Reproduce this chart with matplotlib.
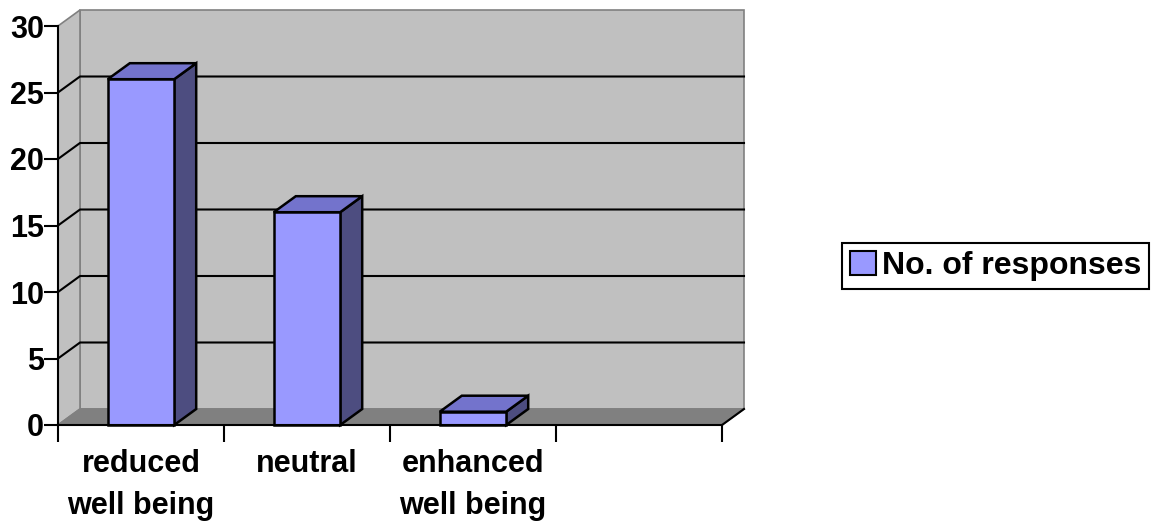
import matplotlib.pyplot as plt
from matplotlib.patches import Polygon, Patch

categories = ["reduced\nwell being", "neutral", "enhanced\nwell being"]
responses = [26, 16, 1]
series_name = "No. of responses"
n_slots = 4
y_max = 30
y_ticks = [0, 5, 10, 15, 20, 25, 30]

plt.rcParams["font.family"] = ["Liberation Sans", "DejaVu Sans"]
plt.rcParams["font.weight"] = "bold"

W, H = 1154, 522
fig = plt.figure(figsize=(W / 100, H / 100), dpi=100)
# front plane of the 3d box, in pixels
x0, x1, y_bot, y_top = 58, 722, 425, 26
ax = fig.add_axes([x0 / W, (H - y_bot) / H, (x1 - x0) / W, (y_bot - y_top) / H])
ax.set_xlim(0, n_slots)
ax.set_ylim(0, y_max)
ax.patch.set_visible(False)

# depth offset in data units
dx = 22 / ((x1 - x0) / n_slots)
dy = 16 / ((y_bot - y_top) / y_max)

wall = "#c0c0c0"
edge = "#808080"

def poly(pts, fc, ec, lw=1.2, z=1):
    ax.add_patch(Polygon(pts, closed=True, facecolor=fc, edgecolor=ec,
                         linewidth=lw, zorder=z, clip_on=False))

# back wall, left wall, floor
poly([(dx, dy), (n_slots + dx, dy), (n_slots + dx, y_max + dy), (dx, y_max + dy)], wall, edge)
poly([(0, 0), (dx, dy), (dx, y_max + dy), (0, y_max)], wall, edge)
poly([(0, 0), (n_slots, 0), (n_slots + dx, dy), (dx, dy)], "#808080", edge)
ax.plot([n_slots, n_slots + dx], [0, dy], color="black", lw=1.5, zorder=2, clip_on=False)

# gridlines on back wall and left wall
for t in y_ticks[1:-1]:
    ax.plot([0, dx, n_slots + dx], [t, t + dy, t + dy], color="black", lw=1.5,
            zorder=2, clip_on=False)

# 3d bars
bw = 0.40
for i, v in enumerate(responses):
    a = i + 0.5 - bw / 2
    b = i + 0.5 + bw / 2
    poly([(b, 0), (b + dx, dy), (b + dx, v + dy), (b, v)], "#4d4d80", "black", 1.8, 4)
    poly([(a, v), (b, v), (b + dx, v + dy), (a + dx, v + dy)], "#7373cc", "black", 1.8, 4)
    poly([(a, 0), (b, 0), (b, v), (a, v)], "#9999ff", "black", 1.8, 5)

for side in ["top", "right"]:
    ax.spines[side].set_visible(False)
for side in ["left", "bottom"]:
    ax.spines[side].set_linewidth(1.5)
    ax.spines[side].set_zorder(6)

ax.set_yticks(y_ticks)
ax.set_xticks(range(n_slots + 1))
ax.set_xticklabels([])
ax.set_xticks([i + 0.5 for i in range(len(categories))], categories, minor=True)
ax.tick_params(axis="y", length=10, width=1.5, pad=0, labelsize=22)
ax.tick_params(axis="x", which="major", length=12, width=1.5)
ax.tick_params(axis="x", which="minor", length=0, pad=17, labelsize=22)
for lbl in ax.get_xticklabels(minor=True):
    lbl.set_linespacing(1.55)
    lbl.set_fontweight("bold")
for lbl in ax.get_yticklabels():
    lbl.set_fontweight("bold")

leg = fig.legend(handles=[Patch(facecolor="#9999ff", edgecolor="black", linewidth=1.5)],
                 labels=[series_name], loc="center left",
                 bbox_to_anchor=(842 / W, (H - 266) / H), fancybox=False,
                 edgecolor="black", framealpha=1, fontsize=23, borderpad=0.25,
                 handlelength=0.8, handleheight=0.8, handletextpad=0.2,
                 borderaxespad=0)
leg.get_frame().set_linewidth(1.5)
for t in leg.get_texts():
    t.set_fontweight("bold")

fig.savefig("out.png", dpi=100)
